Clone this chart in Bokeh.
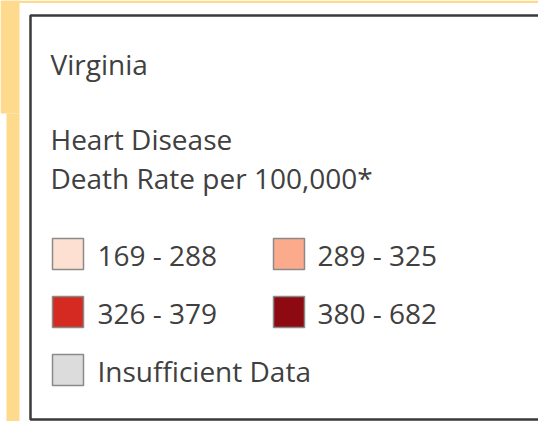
from bokeh.plotting import figure
from bokeh.models import Range1d, ColumnDataSource
from bokeh.core.properties import value
from bokeh.embed import file_html
from bokeh.resources import INLINE

# ---- data ----
state = "Virginia"
title_lines = ["Heart Disease", "Death Rate per 100,000*"]
legend_labels = ["169 - 288", "289 - 325", "326 - 379", "380 - 682", "Insufficient Data"]
legend_colors = ["#FEE0D3", "#FCAA8C", "#D52A22", "#8E0A12", "#DCDCDC"]

# ---- style / layout ----
W, H = 538, 421
FONT = "Open Sans"
FSIZE = "28px"
TXT = "#404040"
YELLOW = "#FDDA8C"
DY = -11  # baseline correction

p = figure(width=W, height=H, x_range=Range1d(0, W), y_range=Range1d(H, 0),
           output_backend="svg", toolbar_location=None, min_border=0)
p.axis.visible = False
p.grid.visible = False
p.outline_line_color = None
p.background_fill_color = "white"
p.border_fill_color = "white"

# yellow page background pieces
p.quad(left=[0, 0, 6], right=[W, 19, 19], top=[0, 0, 113], bottom=[2.5, 113, H],
       fill_color=YELLOW, line_color=None)
# legend box
p.quad(left=[30], right=[560], top=[15], bottom=[419], fill_color="white",
       line_color="#3a3a3a", line_width=2.5)

# header texts
p.text(x=[50], y=[74 + DY], text=[state], text_font=value(FONT), text_font_size=FSIZE,
       text_color=TXT, text_baseline="alphabetic")
p.text(x=[50] * len(title_lines), y=[149 + DY + 39 * i for i in range(len(title_lines))],
       text=title_lines, text_font=value(FONT), text_font_size=FSIZE,
       text_color=TXT, text_baseline="alphabetic")

# legend entries
n = len(legend_labels)
cols = [i % 2 for i in range(n)]
rows = [i // 2 for i in range(n)]
src = ColumnDataSource(dict(
    sx=[67.5 + 221 * c for c in cols],
    sy=[253.5 + 58 * r for r in rows],
    tx=[97 + 220 * c for c in cols],
    ty=[265 + DY + 58 * r for r in rows],
    color=legend_colors,
    label=legend_labels,
))
p.rect(x="sx", y="sy", width=31, height=31, source=src, fill_color="color",
       line_color="#8a8a8a", line_width=1.5)
p.text(x="tx", y="ty", text="label", source=src, text_font=value(FONT),
       text_font_size=FSIZE, text_color=TXT, text_baseline="alphabetic")

open("out.html", "w").write(file_html(p, INLINE))
